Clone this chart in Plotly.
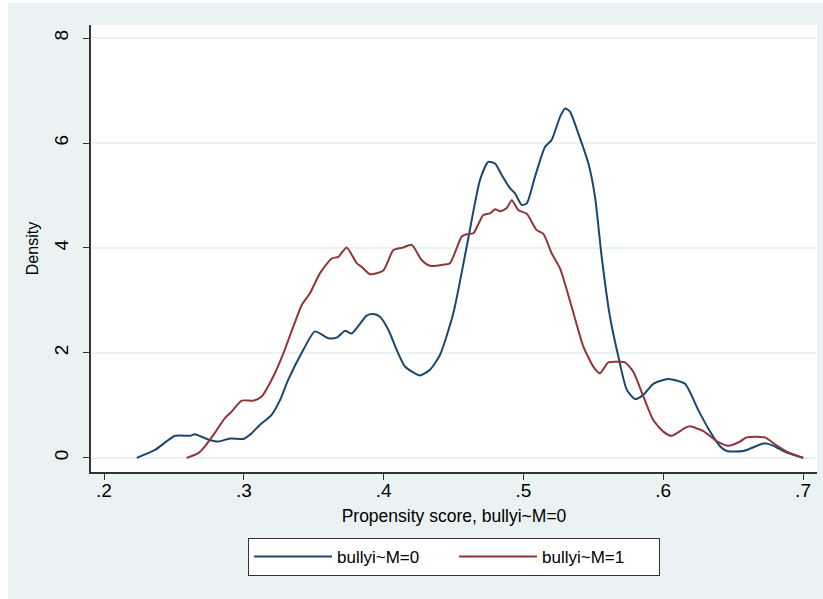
import plotly.graph_objects as go

# Kernel density estimates
x_m0 = [0.2234, 0.2365, 0.2508, 0.2615, 0.2651, 0.2735, 0.2818, 0.2901, 0.2997, 0.3044,
        0.3116, 0.3199, 0.3259, 0.3318, 0.3426, 0.3509, 0.3605, 0.3664, 0.3724, 0.3772,
        0.3879, 0.3926, 0.3974, 0.4034, 0.4093, 0.4153, 0.4260, 0.4332, 0.4403, 0.4499,
        0.4594, 0.4690, 0.4749, 0.4797, 0.4845, 0.4904, 0.4940, 0.4988, 0.5024, 0.5083,
        0.5155, 0.5202, 0.5262, 0.5298, 0.5333, 0.5393, 0.5465, 0.5512, 0.5560, 0.5619,
        0.5679, 0.5739, 0.5798, 0.5858, 0.5929, 0.6025, 0.6072, 0.6156, 0.6251, 0.6335,
        0.6406, 0.6454, 0.6573, 0.6728, 0.6788, 0.6883, 0.7002]
y_m0 = [0.00, 0.15, 0.42, 0.42, 0.45, 0.36, 0.31, 0.37, 0.36, 0.44,
        0.63, 0.82, 1.10, 1.49, 2.06, 2.41, 2.28, 2.29, 2.42, 2.37,
        2.71, 2.74, 2.69, 2.44, 2.06, 1.74, 1.57, 1.68, 1.96, 2.76,
        4.02, 5.30, 5.64, 5.61, 5.39, 5.14, 5.04, 4.82, 4.85, 5.36,
        5.93, 6.06, 6.50, 6.66, 6.60, 6.18, 5.61, 4.98, 3.83, 2.69,
        1.93, 1.30, 1.12, 1.20, 1.41, 1.50, 1.49, 1.41, 0.91, 0.50,
        0.22, 0.13, 0.13, 0.28, 0.23, 0.10, 0.00]

x_m1 = [0.2591, 0.2675, 0.2722, 0.2794, 0.2866, 0.2913, 0.2985, 0.3068, 0.3128, 0.3211,
        0.3283, 0.3354, 0.3414, 0.3474, 0.3545, 0.3629, 0.3676, 0.3736, 0.3807, 0.3843,
        0.3903, 0.3998, 0.4070, 0.4141, 0.4201, 0.4272, 0.4332, 0.4427, 0.4475, 0.4559,
        0.4594, 0.4642, 0.4713, 0.4761, 0.4797, 0.4833, 0.4881, 0.4917, 0.4964, 0.5024,
        0.5095, 0.5143, 0.5202, 0.5262, 0.5345, 0.5429, 0.5500, 0.5548, 0.5607, 0.5690,
        0.5727, 0.5786, 0.5858, 0.5929, 0.6001, 0.6060, 0.6156, 0.6191, 0.6287, 0.6382,
        0.6466, 0.6549, 0.6597, 0.6728, 0.6788, 0.6883, 0.7002]
y_m1 = [0.00, 0.09, 0.22, 0.48, 0.76, 0.88, 1.09, 1.09, 1.17, 1.55,
        1.99, 2.50, 2.91, 3.14, 3.52, 3.80, 3.83, 4.01, 3.71, 3.64,
        3.50, 3.57, 3.96, 4.01, 4.06, 3.77, 3.66, 3.68, 3.71, 4.22,
        4.26, 4.28, 4.63, 4.66, 4.74, 4.70, 4.76, 4.91, 4.72, 4.65,
        4.34, 4.27, 3.90, 3.61, 2.88, 2.12, 1.74, 1.61, 1.82, 1.83,
        1.82, 1.64, 1.17, 0.72, 0.50, 0.42, 0.57, 0.60, 0.51, 0.32,
        0.23, 0.31, 0.39, 0.39, 0.28, 0.12, 0.00]

series_names = ["bullyi~M=0", "bullyi~M=1"]
series_colors = ["#1a476f", "#90353b"]

x_ticks = [0.2, 0.3, 0.4, 0.5, 0.6, 0.7]
x_ticklabels = [".2", ".3", ".4", ".5", ".6", ".7"]
y_ticks = [0, 2, 4, 6, 8]

x_title = "Propensity score, bullyi~M=0"
y_title = "Density"

BG = "#eaf2f3"
FONT = "Liberation Sans, Arial, sans-serif"
AXC = "#333333"

fig = go.Figure()
for xs, ys, name, col in zip([x_m0, x_m1], [y_m0, y_m1], series_names, series_colors):
    fig.add_trace(go.Scatter(x=xs, y=ys, mode="lines", name=name,
                             line=dict(color=col, width=2, shape="spline", smoothing=0.6)))

fig.update_layout(
    width=823, height=599,
    margin=dict(l=91, r=6, t=25, b=127),
    paper_bgcolor=BG, plot_bgcolor="white",
    font=dict(family=FONT, size=17, color="black"),
    showlegend=True,
    legend=dict(orientation="h", x=0.5, xanchor="center", y=-0.1477, yanchor="top",
                bgcolor="white", bordercolor=AXC, borderwidth=1,
                font=dict(size=17), itemwidth=78, entrywidth=112,
                tracegroupgap=0),
    xaxis=dict(range=[0.1907, 0.7100], tickvals=x_ticks, ticktext=x_ticklabels,
               showgrid=False, zeroline=False, showline=True, linecolor=AXC,
               linewidth=1.5, ticks="outside", ticklen=6, tickcolor=AXC,
               tickfont=dict(size=19), ticklabelstandoff=-6,
               title=dict(text=x_title, standoff=10, font=dict(size=17.5))),
    yaxis=dict(range=[-0.27, 8.25], tickvals=y_ticks, showgrid=True, gridcolor=BG,
               gridwidth=1.5, zeroline=False, showline=True, linecolor=AXC,
               linewidth=1.5, ticks="outside", ticklen=6, tickcolor=AXC,
               tickangle=-90, tickfont=dict(size=19),
               ticklabelstandoff=8,
               title=dict(text=y_title, standoff=8, font=dict(size=16))),
    shapes=[
        dict(type="rect", xref="paper", yref="paper", x0=-0.2, x1=-0.1143, y0=-0.3, y1=1.1,
             fillcolor="white", line=dict(width=0), layer="below"),
        dict(type="rect", xref="paper", yref="paper", x0=-0.2, x1=1.1, y0=1.0493, y1=1.1,
             fillcolor="white", line=dict(width=0), layer="below"),
    ],
)

fig.write_html("out.html")
